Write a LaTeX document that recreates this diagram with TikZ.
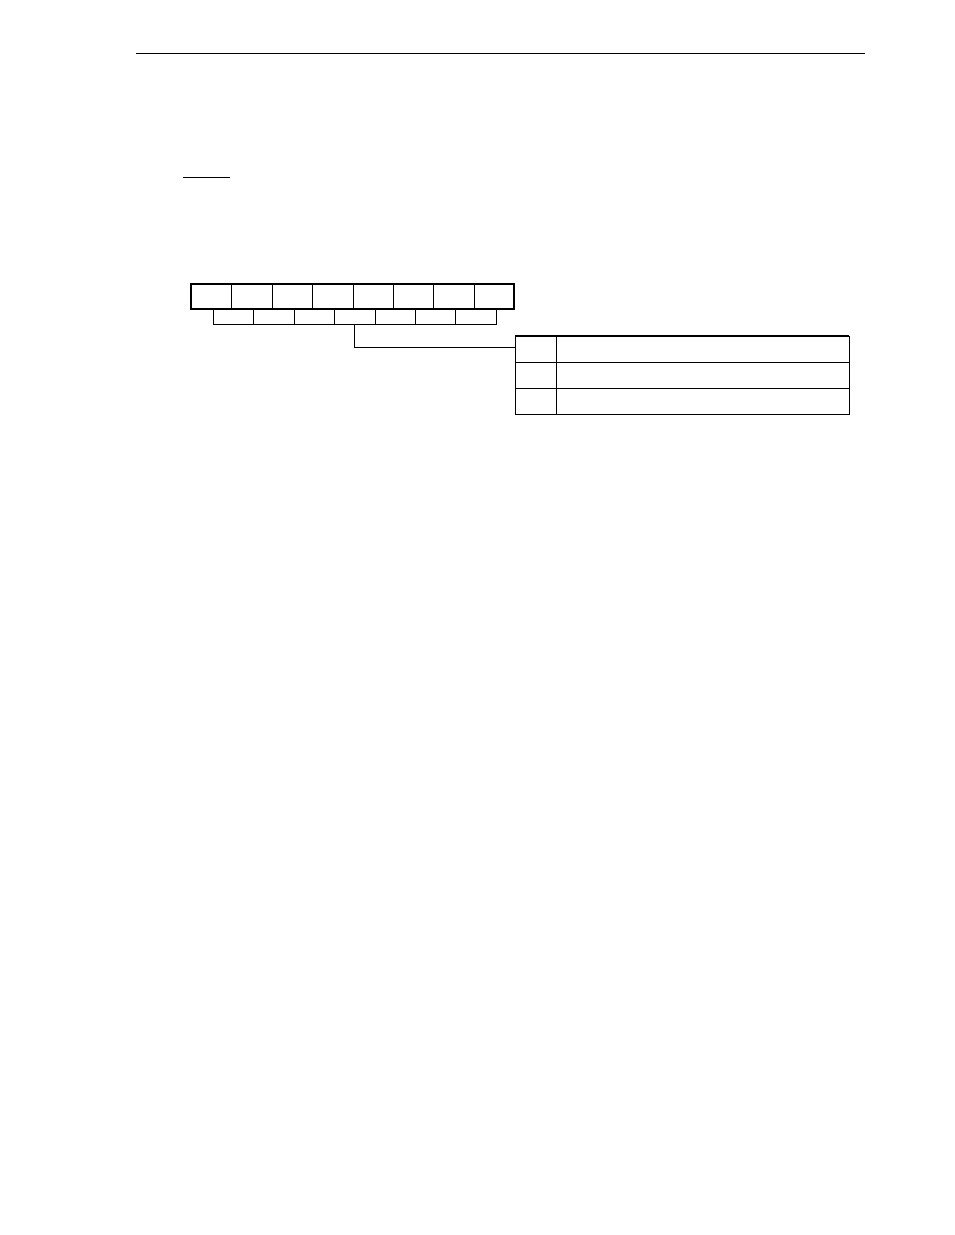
\documentclass[tikz,border=0pt]{standalone}
\begin{document}
\begin{tikzpicture}[x=1pt,y=-1pt,
  cell/.style={draw,line width=0.8pt,inner sep=0pt,anchor=north west,minimum height=25pt},
  subcell/.style={draw,line width=0.8pt,inner sep=0pt,anchor=north west,minimum height=15pt,minimum width=40.4pt},
  tcell/.style={draw,line width=0.8pt,inner sep=0pt,anchor=north west},
  rule/.style={line width=0.9pt},
  conn/.style={line width=0.8pt}]
\useasboundingbox (0,0) rectangle (954,1235);
% header rule
\coordinate (hl) at (136,53);
\coordinate (hr) at (865,53);
\draw[rule] (hl) -- (hr);
% short underline
\coordinate (ul) at (183,177);
\coordinate (ur) at (230,177);
\draw[rule] (ul) -- (ur);
% register bits
\foreach \i in {0,...,7}{
  \node[cell,minimum width=40.375pt] (b\i) at ({191+40.375*\i},284) {};
}
\draw[line width=1.6pt] (191,284) rectangle (514,309);
% sub cells
\foreach \i in {0,...,6}{
  \node[subcell] (s\i) at ({213+40.4*\i},309) {};
}
% table
\node[tcell,minimum width=41pt,minimum height=25.5pt] (t1a) at (515,336) {};
\node[tcell,minimum width=293pt,minimum height=25.5pt] (t1b) at (556,336) {};
\node[tcell,minimum width=41pt,minimum height=26.5pt] (t2a) at (515,361.5) {};
\node[tcell,minimum width=293pt,minimum height=26.5pt] (t2b) at (556,361.5) {};
\node[tcell,minimum width=41pt,minimum height=26pt] (t3a) at (515,388) {};
\node[tcell,minimum width=293pt,minimum height=26pt] (t3b) at (556,388) {};
\draw[line width=1.6pt] (515,336) -- (849,336);
% connector
\coordinate (cb) at (s3.south |- 0,347);
\draw[conn] (s3.south) -- (cb) -- (t1a.west |- cb);
\end{tikzpicture}
\end{document}
